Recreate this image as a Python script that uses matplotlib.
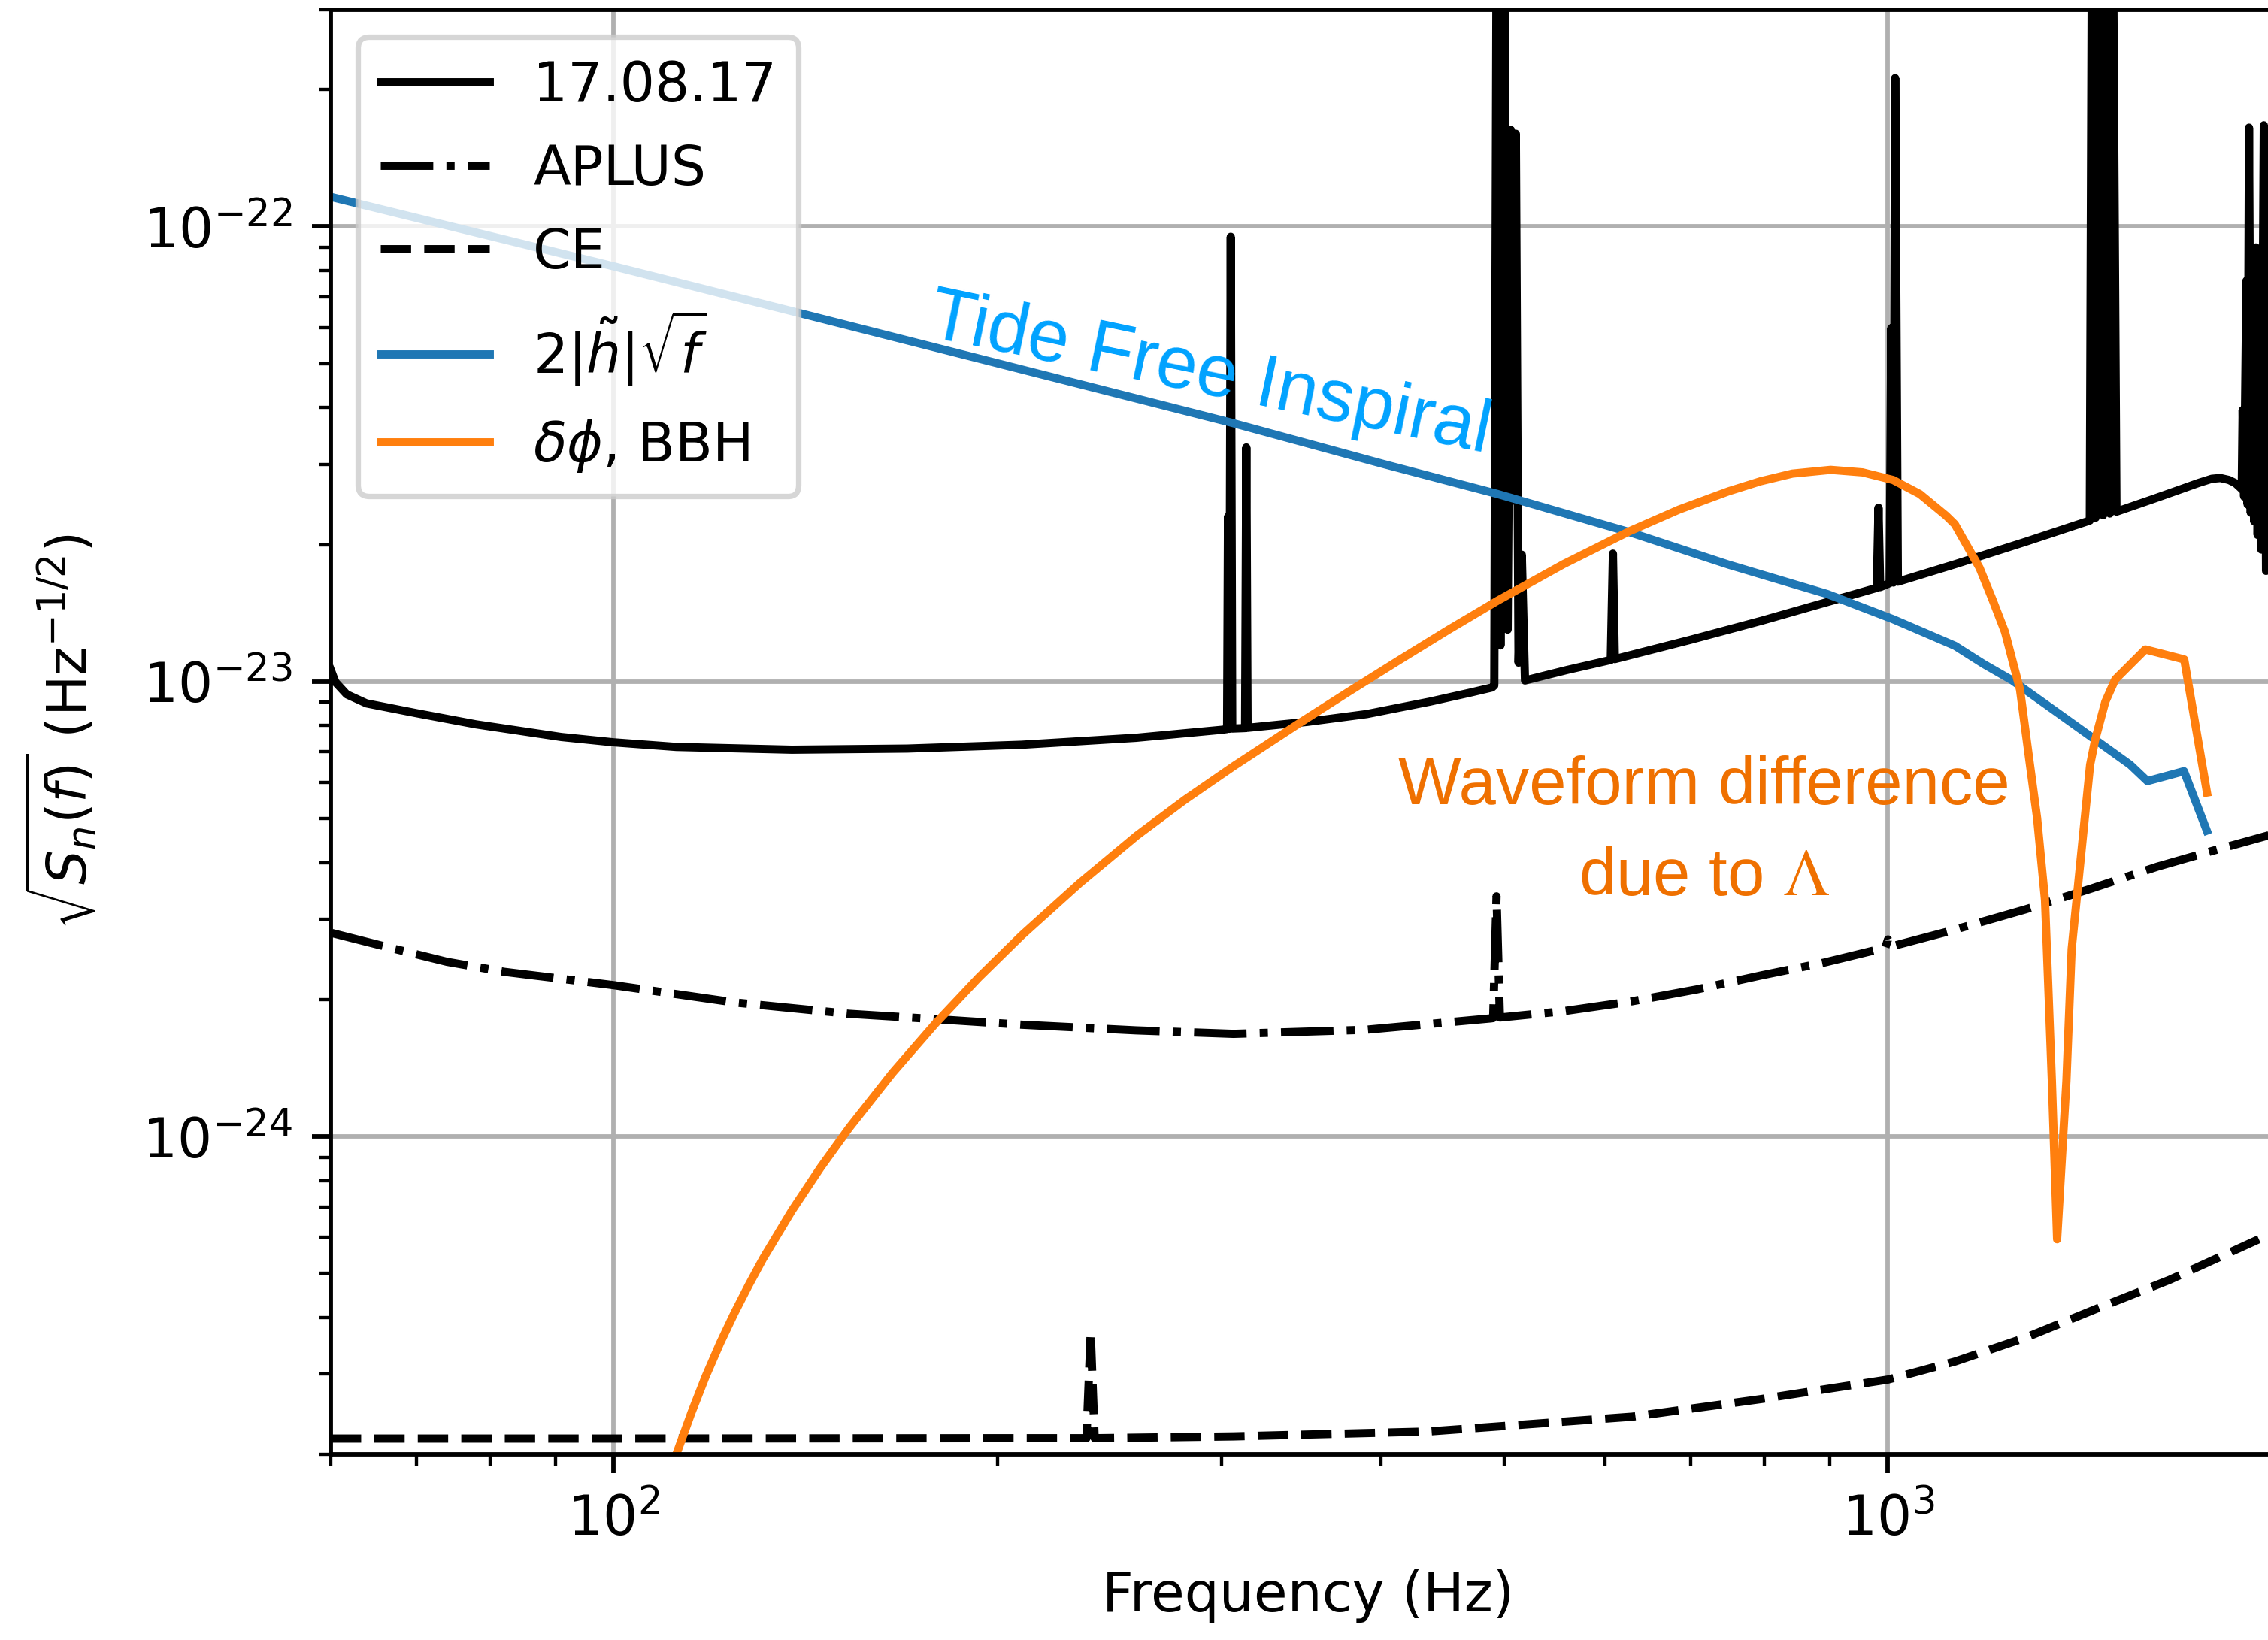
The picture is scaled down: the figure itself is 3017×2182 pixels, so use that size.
import matplotlib.pyplot as plt

# 17.08.17 noise ASD (Hz, 1/sqrt(Hz)), including the narrow instrumental lines
o2_freq = [60.0, 60.5, 61.75, 64.0, 70.0, 78.0, 91.0, 100.0, 112.0, 138.0,
           170.0, 209.0, 257.0, 300.0, 303.0, 303.5, 304.2, 305.0, 305.8, 313.0,
           313.7, 314.4, 350.0, 390.0, 437.0, 470.0, 489.0, 491.0, 493.5, 496.5,
           499.5, 503.0, 506.0, 508.0, 510.5, 513.0, 516.0, 519.0, 560.0, 606.0,
           608.4, 610.5, 700.0, 796.0, 900.0, 980.0, 983.0, 986.0, 1003.0, 1006.0,
           1010.0, 1013.0, 1018.0, 1130.0, 1282.0, 1440.0, 1447.0, 1455.0, 1463.0, 1475.0,
           1487.0, 1493.0, 1499.0, 1511.0, 1617.0, 1700.0, 1752.0, 1795.0, 1823.0, 1851.0,
           1873.0, 1895.0, 1898.0, 1903.0, 1911.0, 1915.0, 1920.0, 1926.0, 1932.0, 1938.0,
           1944.0, 1950.0, 1957.0, 1963.0, 1972.0, 1980.0, 1986.0, 1990.0]
o2_asd = [1.06e-23, 9.97e-24, 9.37e-24, 8.95e-24, 8.52e-24, 8.05e-24, 7.55e-24, 7.35e-24, 7.18e-24, 7.08e-24,
          7.12e-24, 7.26e-24, 7.52e-24, 7.83e-24, 7.86e-24, 2.30e-23, 7.87e-24, 9.50e-23, 7.88e-24, 7.90e-24,
          3.27e-23, 7.91e-24, 8.15e-24, 8.48e-24, 9.03e-24, 9.45e-24, 9.70e-24, 9.80e-24, 1e-21, 1.2e-23,
          1e-21, 1.3e-23, 1.63e-22, 2.5e-23, 1.60e-22, 1.1e-23, 1.9e-23, 1.005e-23, 1.06e-23, 1.115e-23,
          1.91e-23, 1.12e-23, 1.235e-23, 1.36e-23, 1.50e-23, 1.606e-23, 2.41e-23, 1.612e-23, 1.645e-23, 5.98e-23,
          1.65e-23, 2.12e-22, 1.657e-23, 1.812e-23, 2.028e-23, 2.258e-23, 1e-21, 2.29e-23, 1e-21, 2.32e-23,
          1e-21, 2.34e-23, 1e-21, 2.362e-23, 2.522e-23, 2.650e-23, 2.731e-23, 2.790e-23, 2.801e-23, 2.774e-23,
          2.730e-23, 2.649e-23, 3.95e-23, 2.55e-23, 7.6e-23, 2.45e-23, 1.65e-22, 2.35e-23, 6.0e-23, 2.25e-23,
          9.0e-23, 2.1e-23, 7.0e-23, 1.95e-23, 1.67e-22, 1.75e-23, 6.0e-23, 1.65e-23]

# A+ design sensitivity
aplus_freq = [60.1, 66.7, 74.0, 82.1, 100.0, 124.4, 153.0, 179.0, 209.0, 257.0,
              306.5, 389.0, 488.0, 490.0, 493.0, 496.0, 556.0, 627.0, 708.0, 796.0,
              891.0, 986.0, 995.0, 1000.0, 1005.0, 1122.0, 1282.0, 1445.0, 1627.0, 1799.0,
              1990.0]
aplus_asd = [2.80e-24, 2.60e-24, 2.42e-24, 2.30e-24, 2.15e-24, 1.97e-24, 1.86e-24, 1.81e-24, 1.76e-24, 1.71e-24,
             1.68e-24, 1.715e-24, 1.817e-24, 1.82e-24, 3.37e-24, 1.825e-24, 1.884e-24, 1.977e-24, 2.104e-24, 2.26e-24,
             2.41e-24, 2.582e-24, 2.597e-24, 2.71e-24, 2.613e-24, 2.835e-24, 3.155e-24, 3.508e-24, 3.917e-24, 4.246e-24,
             4.592e-24]

# Cosmic Explorer
ce_freq = [60.0, 100.0, 200.0, 235.0, 236.8, 238.5, 306.5, 436.0, 630.0, 795.0,
           1000.0, 1129.0, 1282.0, 1461.0, 1664.0, 1990.0]
ce_asd = [2.166e-25, 2.166e-25, 2.17e-25, 2.17e-25, 3.71e-25, 2.17e-25, 2.19e-25, 2.245e-25, 2.42e-25, 2.645e-25,
          2.92e-25, 3.2e-25, 3.61e-25, 4.19e-25, 4.84e-25, 6.08e-25]

# tide-free inspiral amplitude, 2|h(f)|sqrt(f)
insp_freq = [60.1, 100.0, 140.4, 305.0, 402.0, 494.0, 627.0, 750.0, 896.5, 1009.5,
             1128.6, 1189.0, 1252.0, 1454.0, 1549.0, 1598.0, 1707.0, 1779.0]
insp_amp = [1.161e-22, 8.18e-23, 6.44e-23, 3.71e-23, 3.006e-23, 2.583e-23, 2.129e-23, 1.806e-23, 1.556e-23, 1.370e-23,
            1.198e-23, 1.092e-23, 1.005e-23, 7.45e-24, 6.56e-24, 6.04e-24, 6.35e-24, 4.70e-24]

# waveform difference from the tidal phase, delta phi for BBH
dphi_freq = [111.5, 112.1, 115.1, 118.1, 121.2, 124.4, 127.7, 131.0, 138.0, 145.4,
             153.1, 165.5, 178.9, 193.4, 209.1, 232.1, 257.4, 280.9, 306.5, 345.3,
             377.6, 413.0, 451.6, 493.9, 556.4, 627.0, 685.5, 749.8, 794.3, 841.4,
             901.6, 955.0, 1009.3, 1059.3, 1110.6, 1128.4, 1180.0, 1207.8, 1235.4, 1269.4,
             1292.4, 1309.2, 1328.0, 1344.6, 1357.4, 1380.4, 1393.5, 1440.8, 1454.1, 1480.8,
             1507.6, 1592.0, 1707.8, 1779.5]
dphi_amp = [1.901e-25, 2.012e-25, 2.468e-25, 2.966e-25, 3.506e-25, 4.088e-25, 4.717e-25, 5.384e-25, 6.862e-25, 8.551e-25,
            1.045e-24, 1.378e-24, 1.771e-24, 2.233e-24, 2.767e-24, 3.601e-24, 4.583e-24, 5.501e-24, 6.509e-24, 8.100e-24,
            9.504e-24, 1.112e-23, 1.297e-23, 1.505e-23, 1.811e-23, 2.140e-23, 2.387e-23, 2.619e-23, 2.755e-23, 2.864e-23,
            2.919e-23, 2.882e-23, 2.773e-23, 2.582e-23, 2.315e-23, 2.216e-23, 1.777e-23, 1.514e-23, 1.285e-23, 9.60e-24,
            6.56e-24, 5.01e-24, 3.31e-24, 1.324e-24, 5.94e-25, 1.324e-24, 2.58e-24, 6.56e-24, 7.45e-24, 9.02e-24,
            1.010e-23, 1.176e-23, 1.118e-23, 5.70e-24]

DPI = 524
fig = plt.figure(figsize=(3017.3 / DPI, 2182.3 / DPI), dpi=DPI)
# the right spine sits just past the edge of the canvas
ax = fig.add_axes([440 / 3017, 247 / 2182, 2599 / 3017, 1922 / 2182])

ax.loglog(o2_freq, o2_asd, color="k", ls="-", label="17.08.17")
ax.loglog(aplus_freq, aplus_asd, color="k", ls="-.", label="APLUS")
ax.loglog(ce_freq, ce_asd, color="k", ls="--", label="CE")
ax.loglog(insp_freq, insp_amp, color="C0", label=r"$2|\tilde{h}|\sqrt{f}$")
ax.loglog(dphi_freq, dphi_amp, color="C1", label=r"$\delta\phi$, BBH")

ax.set_xlim(60, 2048)
ax.set_ylim(2e-25, 3e-22)
ax.grid(True)
ax.set_xlabel("Frequency (Hz)")
ax.set_ylabel(r"$\sqrt{S_n(f)}$ (Hz$^{-1/2}$)", labelpad=8)
ax.legend(loc="upper left", labelspacing=0.55)

ax.text(291.7, 4.29e-23, "Tide Free Inspiral", color="#00a2ff",
        family="Liberation Sans", fontsize=13.5, rotation=-11.8,
        rotation_mode="anchor", ha="center", va="baseline")
ax.text(717.6, 5.38e-24, "Waveform difference", color="#ef7000",
        family="Liberation Sans", fontsize=12.2, ha="center", va="baseline")
ax.text(717.6, 3.39e-24, r"due to $\Lambda$", color="#ef7000",
        family="Liberation Sans", fontsize=12.2, math_fontfamily="stix",
        ha="center", va="baseline")

fig.savefig("out.png", dpi=DPI)
